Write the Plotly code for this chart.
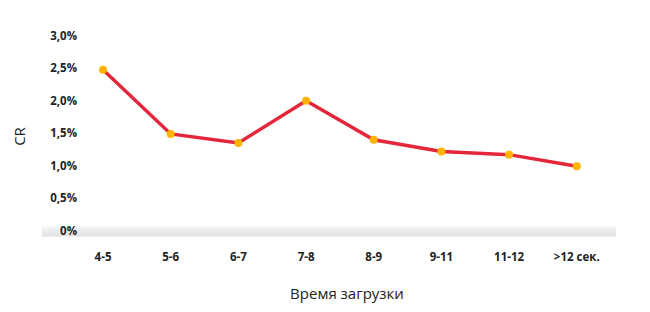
import plotly.graph_objects as go

categories = ["4-5", "5-6", "6-7", "7-8", "8-9", "9-11", "11-12", ">12 сек."]
cr_values = [2.48, 1.49, 1.35, 2.0, 1.40, 1.22, 1.17, 0.99]
y_tickvals = [0, 0.5, 1.0, 1.5, 2.0, 2.5, 3.0]
y_ticktext = ["0%", "0,5%", "1,0%", "1,5%", "2,0%", "2,5%", "3,0%"]

fig = go.Figure()
fig.add_trace(go.Scatter(
    x=list(range(len(categories))), y=cr_values, mode="lines+markers",
    line=dict(color="#e3263a", width=3.5),
    marker=dict(color="#ffb300", size=8),
    hoverinfo="skip", showlegend=False, cliponaxis=False,
))

# grey gradient floor band
shades = ["#f3f3f3", "#f0f0f0", "#ededed", "#eaeaea", "#e7e7e7", "#e4e4e4",
          "#e1e1e1", "#dedede", "#dbdbdb", "#d9d9d9"]
y_top, y_bot = 0.0615, -0.092
n = len(shades)
for i, c in enumerate(shades):
    fig.add_shape(type="rect", xref="paper", yref="y",
                  x0=-0.0669, x1=1.0,
                  y0=y_top - (y_top - y_bot) * (i + 1) / n,
                  y1=y_top - (y_top - y_bot) * i / n,
                  fillcolor=c, line=dict(width=0), layer="below")

fig.update_layout(
    width=650, height=312,
    margin=dict(l=78, r=34, t=36, b=74.5),
    paper_bgcolor="white", plot_bgcolor="white",
    font=dict(family="Open Sans", color="#222"),
    xaxis=dict(
        range=[-0.37, 7.58], tickvals=list(range(len(categories))), ticktext=categories,
        showgrid=False, zeroline=False, showline=False,
        ticks="outside", ticklen=9, tickcolor="rgba(0,0,0,0)",
        tickfont=dict(size=11.5, family="Open Sans", weight="bold", color="#222"),
        title=dict(text="Время загрузки", font=dict(size=15, color="#222"), standoff=25),
    ),
    yaxis=dict(
        range=[-0.1, 3.0], tickvals=y_tickvals, ticktext=y_ticktext,
        showgrid=False, zeroline=False, showline=False,
        ticks="",
        tickfont=dict(size=11.5, family="Open Sans", weight="bold", color="#222"),
        title=dict(text="CR", font=dict(size=15, color="#222"), standoff=20),
    ),
)

fig.write_html("out.html")
